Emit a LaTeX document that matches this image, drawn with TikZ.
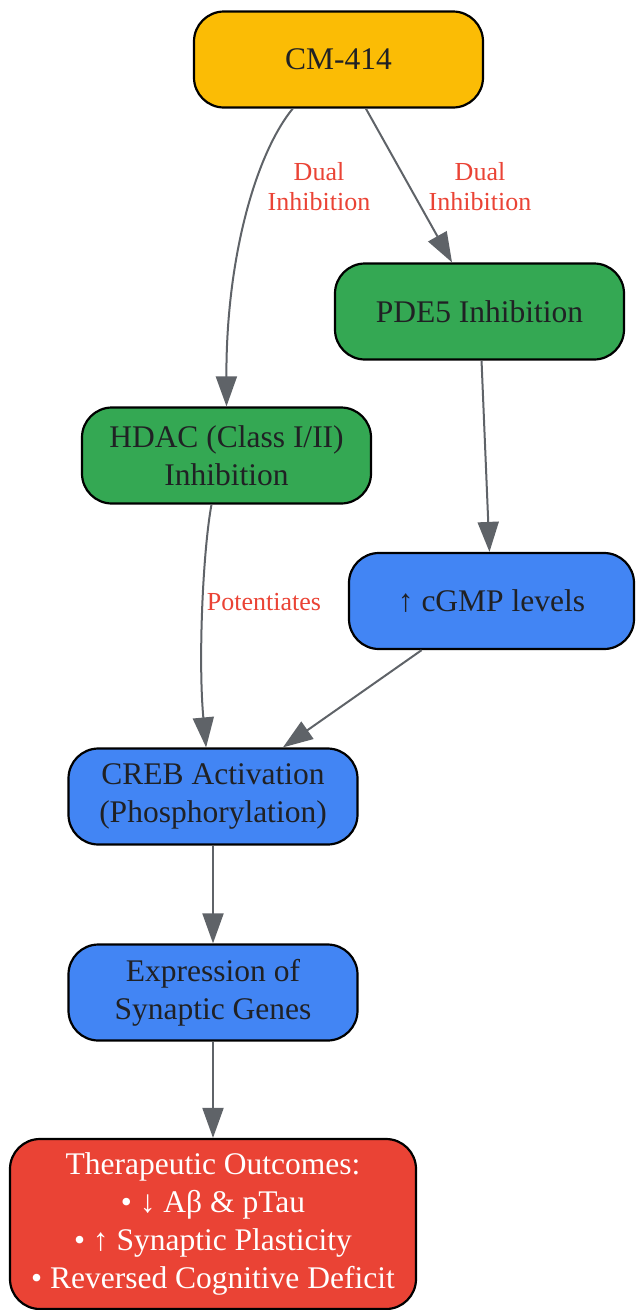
\documentclass[tikz,border=0pt]{standalone}
\usepackage{fontspec}
\setmainfont{Liberation Serif}
\usepackage{xcolor}
\usepackage{tikz}
\usetikzlibrary{positioning, shapes.geometric, arrows.meta}

\definecolor{gyellow}{HTML}{FBBC05}
\definecolor{ggreen}{HTML}{34A853}
\definecolor{gblue}{HTML}{4285F4}
\definecolor{gred}{HTML}{EA4335}
\definecolor{ggray}{HTML}{5F6368}
\definecolor{gtext}{HTML}{202124}

\begin{document}
\begin{tikzpicture}[
    x=1pt, y=-1pt,
    box/.style={rectangle, rounded corners=30pt, draw=black, line width=2.2pt,
        fill=#1, text=gtext, align=center, minimum width=289pt, minimum height=96pt,
        font=\fontsize{31.5}{37.8}\selectfont},
    link/.style={-{Triangle[length=30pt, width=21pt]}, ggray, line width=2pt},
    elabel/.style={text=gred, align=center, font=\fontsize{26}{30}\selectfont}
]
\useasboundingbox (0,0) rectangle (635,1310);

% Nodes
\node[box=gyellow] (drug) at (338.5,59.5) {CM-414};
\node[box=ggreen] (pde) at (479.5,311.5) {PDE5 Inhibition};
\node[box=ggreen] (hdac) at (226.5,455.5) {HDAC (Class I/II)\\Inhibition};
\node[box=gblue, minimum width=285pt] (cgmp) at (491.5,601) {↑ cGMP levels};
\node[box=gblue] (creb) at (213,796.5) {CREB Activation\\(Phosphorylation)};
\node[box=gblue] (genes) at (213,992.5) {Expression of\\Synaptic Genes};
\node[box=gred, text=white, minimum width=406pt, minimum height=170pt] (outcome) at (213,1224)
    {Therapeutic Outcomes:\\• ↓ Aβ \& pTau\\• ↑ Synaptic Plasticity\\• Reversed Cognitive Deficit};

% Edges
\draw[link] (drug.227) .. controls (255,155) and (226,260) .. (hdac.north);
\draw[link] (drug) -- (pde);
\draw[link] (pde) -- (cgmp);
\draw[link] (hdac.253) .. controls (203,550) and (198,660) .. (creb.98);
\draw[link] (cgmp) -- (creb);
\draw[link] (creb) -- (genes);
\draw[link] (genes) -- (outcome);

% Edge labels
\node[elabel] (lbl1) at (319,187) {Dual\\Inhibition};
\node[elabel] (lbl2) at (480,187) {Dual\\Inhibition};
\node[elabel] (lbl3) at (264,602) {Potentiates};

\end{tikzpicture}
\end{document}
